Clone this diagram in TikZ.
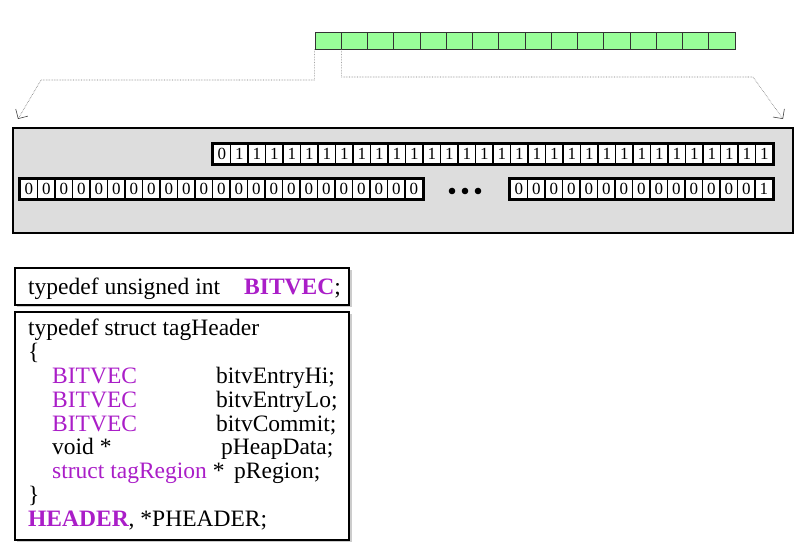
\documentclass[tikz,border=0pt]{standalone}
\usepackage{fontspec}
\setmainfont{Liberation Serif}
\usetikzlibrary{arrows.meta,shadows}

\definecolor{bitgreen}{RGB}{153,255,153}
\definecolor{memgray}{RGB}{221,221,221}
\definecolor{codepurple}{RGB}{170,30,200}
\newcommand{\kw}[1]{\textcolor{codepurple}{#1}}

\begin{document}
\begin{tikzpicture}[x=1bp,y=1bp,
    greencell/.style={draw=black!80,fill=bitgreen,line width=0.8bp,
      minimum width=26.25bp,minimum height=17bp,inner sep=0pt},
    bitcell/.style={draw=black,fill=white,line width=1.6bp,
      minimum width=17.5bp,minimum height=20bp,inner sep=0pt,
      font=\fontsize{17bp}{17bp}\selectfont},
    rowframe/.style={line width=2.4bp},
    zoomline/.style={densely dotted,draw=black!55,line width=0.6bp,
      -{Straight Barb[length=7bp,width=14bp,color=black!75]}},
    codebox/.style={draw=black,line width=1.2bp,fill=white,
      drop shadow={shadow xshift=2.5bp,shadow yshift=-2.5bp,fill=black!40}},
    code/.style={anchor=base west,inner sep=0pt,
      font=\fontsize{23.5bp}{23.5bp}\selectfont}]
  \useasboundingbox (0,0) rectangle (811,556);

  % green strip
  \foreach \i in {1,...,16}
    \node[greencell] (g\i) at (315+26.25*\i-13.125,515.5) {};

  % memory view
  \node[draw=black,line width=2.5bp,fill=memgray,
    minimum width=780bp,minimum height=105bp] (mem) at (403,375.5) {};

  \foreach \i in {1,...,32}
    \node[bitcell] (hi\i) at (213+17.5*\i-8.75,402) {\ifnum\i=1 0\else 1\fi};
  \draw[rowframe] (hi1.south west) rectangle (hi32.north east);

  \foreach \i in {1,...,23}
    \node[bitcell] (lo\i) at (20+17.5*\i-8.75,367) {0};
  \draw[rowframe] (lo1.south west) rectangle (lo23.north east);

  \foreach \i in {1,...,15}
    \node[bitcell] (cm\i) at (510+17.5*\i-8.75,367) {\ifnum\i=15 1\else 0\fi};
  \draw[rowframe] (cm1.south west) rectangle (cm15.north east);

  \foreach \x in {452,465,478}
    \fill (\x,365) circle (3.3bp);

  % zoom lines
  \coordinate (lt) at (18,437);
  \coordinate (rt) at (783,437);
  \draw[zoomline] (g1.south west) |- (41,476) -- (lt);
  \draw[zoomline] (g1.south east) |- (753,479) -- (rt);

  % declarations
  \node[codebox,minimum width=334bp,minimum height=37bp] (tdef) at (182,269.5) {};
  \node[code] (tdeftxt) at (28,261) {typedef unsigned int};
  \node[code] (tdefkw) at (244,261) {\textbf{\kw{BITVEC}};};

  \node[codebox,minimum width=334bp,minimum height=228bp] (hdr) at (182,130) {};
  \node[code] (l1) at (28,220) {typedef struct tagHeader};
  \node[code] (l2) at (28,196.2) {\{};
  \node[code] (l3) at (52,172.4) {\kw{BITVEC}};
  \node[code] (l3b) at (216,172.4) {bitvEntryHi;};
  \node[code] (l4) at (52,148.6) {\kw{BITVEC}};
  \node[code] (l4b) at (216,148.6) {bitvEntryLo;};
  \node[code] (l5) at (52,124.8) {\kw{BITVEC}};
  \node[code] (l5b) at (216,124.8) {bitvCommit;};
  \node[code] (l6) at (52,101) {void *};
  \node[code] (l6b) at (221,101) {pHeapData;};
  \node[code] (l7) at (52,77.2) {\kw{struct tagRegion} *};
  \node[code] (l7b) at (234,77.2) {pRegion;};
  \node[code] (l8) at (28,53.4) {\}};
  \node[code] (l9) at (28,29.6) {\textbf{\kw{HEADER}}, *PHEADER;};
\end{tikzpicture}
\end{document}
